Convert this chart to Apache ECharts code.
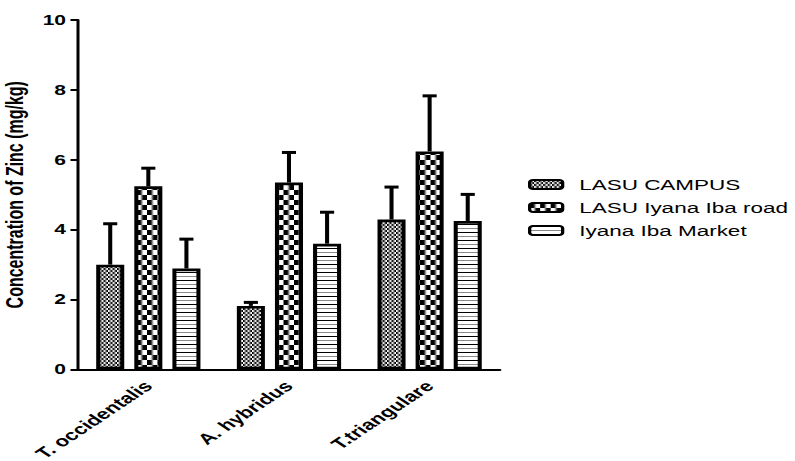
<!DOCTYPE html>
<html>
<head>
<meta charset="utf-8">
<script src="https://cdn.jsdelivr.net/npm/echarts@6/dist/echarts.min.js"></script>
<style>
html,body{margin:0;padding:0;background:#fff;overflow:hidden}
#wrap{width:795px;height:461px;overflow:hidden}
#c{width:530px;height:461px;transform:scaleX(1.5);transform-origin:0 0}
</style>
</head>
<body>
<div id="wrap"><div id="c"></div></div>
<script>
const categories = ['T. occidentalis', 'A. hybridus', 'T.triangulare'];
const seriesNames = ['LASU CAMPUS', 'LASU Iyana Iba road', 'Iyana Iba Market'];
const campusMean = [3.0, 1.82, 4.29];
const campusUpper = [4.17, 1.92, 5.22];
const roadMean = [5.24, 5.35, 6.24];
const roadUpper = [5.76, 6.21, 7.83];
const marketMean = [2.89, 3.6, 4.25];
const marketUpper = [3.73, 4.5, 5.01];
const yTicks = [0, 2, 4, 6, 8, 10];

function makePattern(kind) {
  const c = document.createElement('canvas');
  const ctx = c.getContext('2d');
  if (kind === 'fine') {
    c.width = 3; c.height = 4;
    ctx.fillStyle = '#fff'; ctx.fillRect(0, 0, 3, 4);
    ctx.fillStyle = '#000'; ctx.fillRect(0, 0, 1.5, 2); ctx.fillRect(1.5, 2, 1.5, 2);
  } else if (kind === 'coarse') {
    c.width = 7; c.height = 10;
    ctx.fillStyle = '#fff'; ctx.fillRect(0, 0, 7, 10);
    ctx.fillStyle = '#000'; ctx.fillRect(0, 0, 3.5, 5); ctx.fillRect(3.5, 5, 3.5, 5);
  } else {
    c.width = 4; c.height = 8;
    ctx.fillStyle = '#fff'; ctx.fillRect(0, 0, 4, 8);
    ctx.fillStyle = '#000'; ctx.fillRect(0, 0, 4, 1);
    ctx.fillStyle = '#8a8a8a'; ctx.fillRect(0, 4, 4, 1);
  }
  return { image: c, repeat: 'repeat' };
}
const patterns = [makePattern('fine'), makePattern('coarse'), makePattern('stripes')];
const means = [campusMean, roadMean, marketMean];
const uppers = [campusUpper, roadUpper, marketUpper];

const BAR_W = 18.7, BAR_GAP = 6.7;
const offsets = [-(BAR_W + BAR_GAP), 0, BAR_W + BAR_GAP];
const FONT = 'Liberation Sans, Arial, sans-serif';

const series = [];
for (let s = 0; s < 3; s++) {
  series.push({
    name: seriesNames[s],
    type: 'bar',
    barWidth: BAR_W,
    barGap: (BAR_GAP / BAR_W * 100) + '%',
    data: means[s],
    itemStyle: { color: patterns[s], borderColor: '#000', borderWidth: 2.7 },
    z: 2
  });
}
for (let s = 0; s < 3; s++) {
  const off = offsets[s];
  series.push({
    type: 'custom',
    name: 'err' + s,
    z: 1,
    data: categories.map((c, i) => [i, means[s][i], uppers[s][i]]),
    renderItem: function (params, api) {
      const x = api.coord([api.value(0), 0])[0] + off;
      const y1 = api.coord([api.value(0), api.value(1)])[1];
      const y2 = api.coord([api.value(0), api.value(2)])[1];
      return {
        type: 'group',
        children: [
          { type: 'line', shape: { x1: x, y1: y1, x2: x, y2: y2 }, style: { stroke: '#000', lineWidth: 2.7 } },
          { type: 'line', shape: { x1: x - 4.7, y1: y2, x2: x + 4.7, y2: y2 }, style: { stroke: '#000', lineWidth: 3 } }
        ]
      };
    }
  });
}

const chart = echarts.init(document.getElementById('c'), null, { renderer: 'svg', width: 530, height: 461 });
chart.setOption({
  animation: false,
  backgroundColor: '#fff',
  grid: { left: 52, right: 196.7, top: 20, bottom: 91.5, containLabel: false, outerBoundsMode: 'none' },
  legend: {
    data: seriesNames,
    orient: 'vertical',
    left: 347,
    top: 172,
    itemWidth: 22,
    itemHeight: 9,
    itemGap: 8,
    icon: 'roundRect',
    itemStyle: { borderColor: '#000', borderWidth: 2.2 },
    textStyle: { fontFamily: FONT, fontSize: 15, color: '#000', padding: [0, 0, 0, 6] }
  },
  xAxis: {
    type: 'category',
    data: categories,
    axisLine: { lineStyle: { color: '#000', width: 2 } },
    axisTick: { alignWithLabel: true, length: 6, lineStyle: { color: '#000', width: 2 } },
    axisLabel: { rotate: 45, fontFamily: FONT, fontWeight: 'bold', fontSize: 15, color: '#000', margin: 14 }
  },
  yAxis: {
    type: 'value',
    min: yTicks[0],
    max: yTicks[yTicks.length - 1],
    interval: 2,
    name: 'Concentration of Zinc (mg/kg)',
    nameLocation: 'middle',
    nameGap: 31,
    nameTextStyle: { fontFamily: FONT, fontWeight: 'bold', fontSize: 16, color: '#000' },
    axisLine: { show: true, lineStyle: { color: '#000', width: 2 } },
    axisTick: { show: true, length: 5, lineStyle: { color: '#000', width: 2 } },
    axisLabel: { fontFamily: FONT, fontWeight: 'bold', fontSize: 14, color: '#000', margin: 8 },
    splitLine: { show: false }
  },
  series: series
});
</script>
</body>
</html>
